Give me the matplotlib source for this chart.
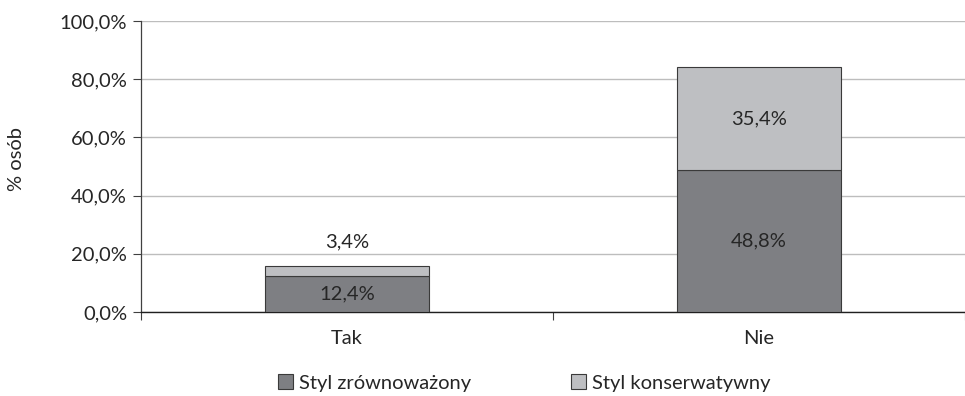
import matplotlib
matplotlib.use("Agg")
import matplotlib.pyplot as plt
import numpy as np

categories = ["Tak", "Nie"]
series_names = ["Styl zrównoważony", "Styl konserwatywny"]
zrownowazony = [12.4, 48.8]
konserwatywny = [3.4, 35.4]
yticks = [0, 20, 40, 60, 80, 100]

plt.rcParams['font.family'] = ['Lato', 'DejaVu Sans']
txt = '#262626'
c_dark = '#7e7f83'
c_light = '#bebfc2'
fs = 14.5

fig = plt.figure(figsize=(9.65, 3.96), dpi=100)
ax = fig.add_axes([141/965, 1-312/396, 1-141/965, (312-21)/396])

x = np.arange(len(categories))
w = 0.40
b1 = ax.bar(x, zrownowazony, w, color=c_dark, edgecolor='#3a3a3a', linewidth=0.8, zorder=3,
            label=series_names[0])
b2 = ax.bar(x, konserwatywny, w, bottom=zrownowazony, color=c_light, edgecolor='#3a3a3a',
            linewidth=0.8, zorder=3, label=series_names[1])

ax.set_xlim(-0.5, 1.5)
ax.set_ylim(0, 100)
ax.set_yticks(yticks)
ax.set_yticklabels([f"{v:.1f}%".replace('.', ',') for v in yticks], fontsize=fs, color=txt)
ax.yaxis.grid(True, color='#bdbdbd', linewidth=1.0, zorder=0)
ax.set_axisbelow(True)

ax.set_xticks([-0.5, 0.5, 1.5])
ax.set_xticklabels([])
ax.set_xticks(x, minor=True)
ax.set_xticklabels(categories, minor=True, fontsize=fs, color=txt)
ax.tick_params(axis='x', which='minor', length=0, pad=13)
ax.tick_params(axis='x', which='major', length=6, width=0.8, color='#404040', direction='out')
ax.tick_params(axis='y', length=6, width=0.8, color='#404040', pad=4)

for s in ['top', 'right']:
    ax.spines[s].set_visible(False)
ax.spines['left'].set_color('#404040')
ax.spines['left'].set_linewidth(0.9)
ax.spines['bottom'].set_color('#202020')
ax.spines['bottom'].set_linewidth(1.0)

fig.text(16/965, 1-159/396, "% osób", rotation=90, ha='center', va='center',
         fontsize=fs, color=txt)

for i in range(len(categories)):
    z = zrownowazony[i]
    k = konserwatywny[i]
    ax.text(x[i], z / 2, f"{z:.1f}%".replace('.', ','), ha='center', va='center',
            fontsize=fs, color=txt, zorder=4)
    if k < 8:
        ax.annotate(f"{k:.1f}%".replace('.', ','), (x[i], z + k), xytext=(0, 11),
                    textcoords='offset points', ha='center', va='bottom', fontsize=fs, color=txt)
    else:
        ax.text(x[i], z + k / 2, f"{k:.1f}%".replace('.', ','), ha='center', va='center',
                fontsize=fs, color=txt, zorder=4)

fig.legend(handles=[b1, b2], labels=series_names, loc='center', ncol=2,
           bbox_to_anchor=(524/965, 1-383/396), frameon=False, fontsize=fs,
           handlelength=0.75, handleheight=0.75, handletextpad=0.3, columnspacing=4.95,
           labelcolor=txt)

fig.savefig("out.png", dpi=100, facecolor='white')
